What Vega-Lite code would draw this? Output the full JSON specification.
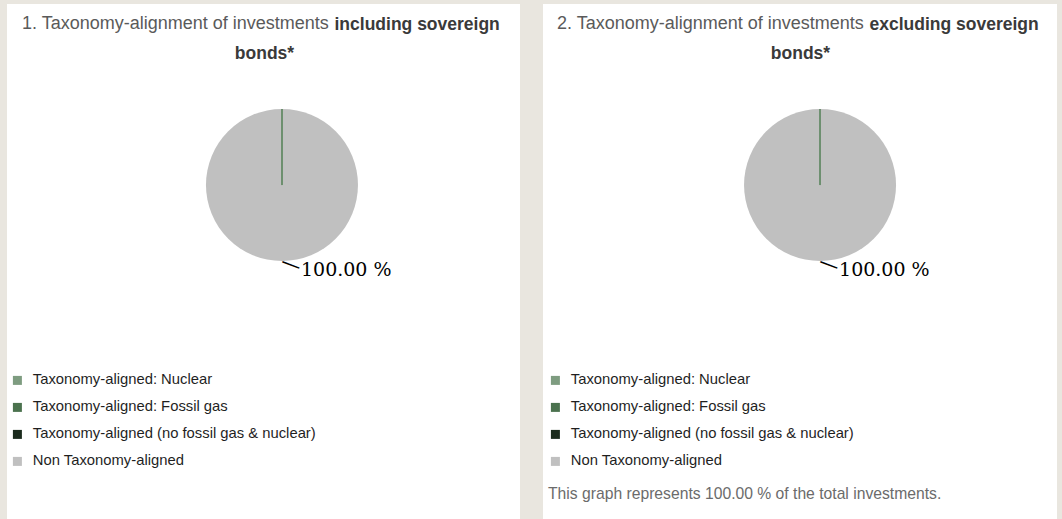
{
  "$schema": "https://vega.github.io/schema/vega-lite/v6.json",
  "background": "#e9e6df",
  "padding": {"left": 7, "top": 4, "right": 5, "bottom": 0},
  "spacing": 23,
  "config": {
    "view": {"stroke": null, "fill": "white"},
    "axis": {"minExtent": 0, "labels": false, "ticks": false, "domain": false, "grid": false}
  },
  "resolve": {
    "scale": {"x": "independent", "y": "independent", "color": "independent", "theta": "independent"},
    "legend": {"color": "independent"},
    "axis": {"x": "independent", "y": "independent"}
  },
  "datasets": {
    "incl": [
      {"category": "Taxonomy-aligned: Nuclear", "value": 0},
      {"category": "Taxonomy-aligned: Fossil gas", "value": 0},
      {"category": "Taxonomy-aligned (no fossil gas & nuclear)", "value": 0},
      {"category": "Non Taxonomy-aligned", "value": 100, "label": "100.00 %"}
    ],
    "excl": [
      {"category": "Taxonomy-aligned: Nuclear", "value": 0},
      {"category": "Taxonomy-aligned: Fossil gas", "value": 0},
      {"category": "Taxonomy-aligned (no fossil gas & nuclear)", "value": 0},
      {"category": "Non Taxonomy-aligned", "value": 100, "label": "100.00 %"}
    ]
  },
  "hconcat": [
    {
      "width": 513,
      "height": 515,
      "data": {"name": "incl"},
      "title": {"text": "1. Taxonomy-alignment of investments", "anchor": "start", "frame": "group", "dx": 15, "offset": -43, "fontSize": 18, "fontWeight": "normal", "color": "#5a5a5a", "font": "Liberation Sans", "baseline": "alphabetic"},
      "encoding": {
        "x": {"datum": 0.536, "type": "quantitative", "scale": {"domain": [0, 1], "nice": false, "zero": false},
              "axis": {"orient": "top", "title": "including sovereign", "titleX": 327, "titleY": 25, "titleAlign": "left", "titleAnchor": null, "titleBaseline": "alphabetic", "titleFontSize": 17.5, "titleFontWeight": "bold", "titleColor": "#3a3a3a", "titleFont": "Liberation Sans"}},
        "y": {"datum": 0.3515, "type": "quantitative", "scale": {"domain": [0, 1], "reverse": true, "nice": false, "zero": false},
              "axis": {"orient": "left", "title": "bonds*", "titleAngle": 0, "titleX": 257, "titleY": 54, "titleAlign": "center", "titleAnchor": null, "titleBaseline": "alphabetic", "titleFontSize": 17.5, "titleFontWeight": "bold", "titleColor": "#3a3a3a", "titleFont": "Liberation Sans"}}
      },
      "layer": [
        {
          "mark": {"type": "arc", "radius": 76},
          "encoding": {
            "theta": {"field": "value", "type": "quantitative", "stack": true},
            "color": {"field": "category", "type": "nominal",
              "scale": {"domain": ["Taxonomy-aligned: Nuclear", "Taxonomy-aligned: Fossil gas", "Taxonomy-aligned (no fossil gas & nuclear)", "Non Taxonomy-aligned"], "range": ["#7e9c80", "#4b724e", "#1b2b1d", "#c0c0c0"]},
              "legend": {"orient": "none", "legendX": 3, "legendY": 369, "title": null, "symbolType": "square", "symbolSize": 81, "symbolStrokeWidth": 0, "labelFontSize": 14.8, "labelFont": "Liberation Sans", "labelColor": "#1f1f1f", "labelOffset": 8, "rowPadding": 11, "labelLimit": 500, "padding": 0}}
          }
        },
        {
          "transform": [{"filter": "datum.value == 0"}],
          "mark": {"type": "arc", "radius": 76, "fill": "transparent", "stroke": "#6d8f6f", "strokeWidth": 1},
          "encoding": {"theta": {"field": "value", "type": "quantitative", "stack": true}}
        },
        {
          "transform": [{"filter": "datum.value > 0"}],
          "mark": {"type": "text", "radius": 80, "thetaOffset": -0.113, "text": "—", "angle": 21, "align": "center", "baseline": "middle", "font": "DejaVu Sans", "fontSize": 20, "color": "#000000"},
          "encoding": {"theta": {"field": "value", "type": "quantitative", "stack": true}}
        },
        {
          "transform": [{"filter": "datum.value > 0"}],
          "mark": {"type": "text", "radius": 85, "dx": 19, "align": "left", "baseline": "middle", "font": "DejaVu Serif", "fontSize": 19, "color": "#000000"},
          "encoding": {"theta": {"field": "value", "type": "quantitative", "stack": true}, "text": {"field": "label"}}
        }
      ]
    },
    {
      "width": 514,
      "height": 515,
      "data": {"name": "excl"},
      "title": {"text": "2. Taxonomy-alignment of investments", "anchor": "start", "frame": "group", "dx": 14, "offset": -43, "fontSize": 18, "fontWeight": "normal", "color": "#5a5a5a", "font": "Liberation Sans", "baseline": "alphabetic"},
      "encoding": {
        "x": {"datum": 0.539, "type": "quantitative", "scale": {"domain": [0, 1], "nice": false, "zero": false},
              "axis": {"orient": "top", "title": "excluding sovereign", "titleX": 326, "titleY": 25, "titleAlign": "left", "titleAnchor": null, "titleBaseline": "alphabetic", "titleFontSize": 17.5, "titleFontWeight": "bold", "titleColor": "#3a3a3a", "titleFont": "Liberation Sans"}},
        "y": {"datum": 0.3515, "type": "quantitative", "scale": {"domain": [0, 1], "reverse": true, "nice": false, "zero": false},
              "axis": {"orient": "left", "title": "bonds*", "titleAngle": 0, "titleX": 257, "titleY": 54, "titleAlign": "center", "titleAnchor": null, "titleBaseline": "alphabetic", "titleFontSize": 17.5, "titleFontWeight": "bold", "titleColor": "#3a3a3a", "titleFont": "Liberation Sans"}}
      },
      "layer": [
        {
          "mark": {"type": "arc", "radius": 76},
          "encoding": {
            "theta": {"field": "value", "type": "quantitative", "stack": true},
            "color": {"field": "category", "type": "nominal",
              "scale": {"domain": ["Taxonomy-aligned: Nuclear", "Taxonomy-aligned: Fossil gas", "Taxonomy-aligned (no fossil gas & nuclear)", "Non Taxonomy-aligned"], "range": ["#7e9c80", "#4b724e", "#1b2b1d", "#c0c0c0"]},
              "legend": {"orient": "none", "legendX": 5, "legendY": 369, "title": "This graph represents 100.00 % of the total investments.", "titleOrient": "bottom", "titlePadding": 19, "titleFontWeight": "normal", "titleFontSize": 15.7, "titleFont": "Liberation Sans", "titleColor": "#6b6b6b", "titleLimit": 700, "titleAnchor": "start", "titleAlign": "left", "symbolType": "square", "symbolSize": 81, "symbolStrokeWidth": 0, "labelFontSize": 14.8, "labelFont": "Liberation Sans", "labelColor": "#1f1f1f", "labelOffset": 8, "rowPadding": 11, "labelLimit": 500, "padding": 0}}
          }
        },
        {
          "transform": [{"filter": "datum.value == 0"}],
          "mark": {"type": "arc", "radius": 76, "fill": "transparent", "stroke": "#6d8f6f", "strokeWidth": 1},
          "encoding": {"theta": {"field": "value", "type": "quantitative", "stack": true}}
        },
        {
          "transform": [{"filter": "datum.value > 0"}],
          "mark": {"type": "text", "radius": 80, "thetaOffset": -0.113, "text": "—", "angle": 21, "align": "center", "baseline": "middle", "font": "DejaVu Sans", "fontSize": 20, "color": "#000000"},
          "encoding": {"theta": {"field": "value", "type": "quantitative", "stack": true}}
        },
        {
          "transform": [{"filter": "datum.value > 0"}],
          "mark": {"type": "text", "radius": 85, "dx": 19, "align": "left", "baseline": "middle", "font": "DejaVu Serif", "fontSize": 19, "color": "#000000"},
          "encoding": {"theta": {"field": "value", "type": "quantitative", "stack": true}, "text": {"field": "label"}}
        }
      ]
    }
  ]
}
